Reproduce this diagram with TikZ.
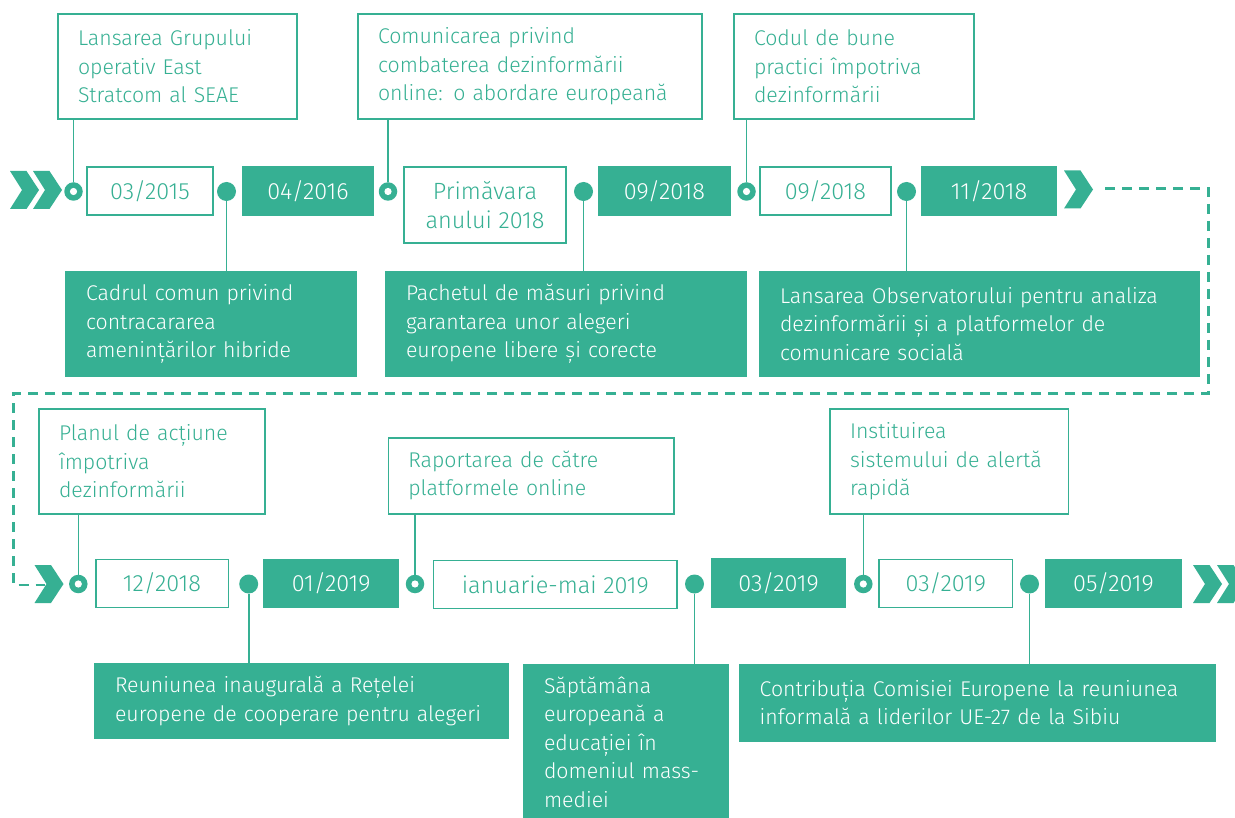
\documentclass[tikz,border=0pt]{standalone}
\usepackage{fontspec}
\setmainfont{Fira Sans}[UprightFont={* Light}]
\definecolor{eugreen}{RGB}{54,176,147}
\newcommand\chevshape[2]{\fill[eugreen] (#1-29,#2-19) -- (#1-12.5,#2-19) -- (#1,#2) -- (#1-12.5,#2+19) -- (#1-29,#2+19) -- (#1-17,#2) -- cycle;}
\begin{document}
\begin{tikzpicture}[x=1pt,y=-1pt,
  every node/.style={font=\fontsize{21.3}{28.5}\selectfont},
  tbox/.style={draw=eugreen, line width=1.6pt, fill=white, text=eugreen, inner xsep=20pt, inner ysep=0pt, align=left},
  gbox/.style={draw=eugreen, line width=1.6pt, fill=eugreen, text=white, inner xsep=20pt, inner ysep=0pt, align=left},
  dbox/.style={draw=eugreen, line width=1.6pt, fill=white, text=eugreen, inner sep=0pt, align=center, font=\fontsize{23.5}{28.5}\selectfont},
  fdbox/.style={dbox, fill=eugreen, text=white},
  odot/.style={circle, fill=eugreen, minimum size=18.5pt, inner sep=0pt, path picture={\fill[white] (path picture bounding box.center) circle (3.6pt);}},
  fdot/.style={circle, fill=eugreen, minimum size=19pt, inner sep=0pt},
  stem/.style={draw=eugreen, line width=1.6pt},
  dashline/.style={draw=eugreen, line width=2.7pt, dash pattern=on 10pt off 7pt},
]
\fill[white] (0,0) rectangle (1235,818);
\useasboundingbox (0,0) rectangle (1235,818);
\begin{scope}
\clip (0,0) rectangle (1235,818);

% ---------- row 1 ----------
\chevshape{39}{190}
\chevshape{62}{190}
\chevshape{1093}{189.5}

\node[tbox, text width=199pt, minimum height=105pt] (t1) at (177.5,66.5) {Lansarea Grupului\\operativ East\\Stratcom al SEAE};
\node[tbox, text width=304pt, minimum height=105pt] (t2) at (530,66.5) {Comunicarea privind\\combaterea dezinformării\\online: o abordare europeană};
\node[tbox, text width=200pt, minimum height=105pt] (t3) at (854,66.5) {Codul de bune\\practici împotriva\\dezinformării};

\node[dbox, minimum width=126pt, minimum height=48pt] (d1) at (150,191) {03/2015};
\node[fdbox, minimum width=130pt, minimum height=48pt] (d2) at (308,191) {04/2016};
\node[dbox, minimum width=162pt, minimum height=76pt] (d3) at (485,205) {Primăvara\\anului 2018};
\node[fdbox, minimum width=131pt, minimum height=48pt] (d4) at (664.5,191) {09/2018};
\node[dbox, minimum width=131pt, minimum height=48pt] (d5) at (825.5,191) {09/2018};
\node[fdbox, minimum width=134pt, minimum height=48pt] (d6) at (989,191) {11/2018};

\node[gbox, text width=250pt, minimum height=104pt] (b1) at (211,324) {Cadrul comun privind\\contracararea\\amenințărilor hibride};
\node[gbox, text width=320.5pt, minimum height=104pt] (b2) at (566.25,324) {Pachetul de măsuri privind\\garantarea unor alegeri\\europene libere și corecte};
\node[gbox, text width=399pt, minimum height=104pt] (b3) at (979.5,324) {Lansarea Observatorului pentru analiza\\dezinformării și a platformelor de\\comunicare socială};

\node[odot] (c1) at (73.5,191.5) {};
\node[fdot] (c2) at (226.5,191.5) {};
\node[odot] (c3) at (388,191.5) {};
\node[fdot] (c4) at (583.5,191.5) {};
\node[odot] (c5) at (746.5,191.5) {};
\node[fdot] (c6) at (906.5,191.5) {};

\draw[stem] (c1) -- (c1 |- t1.south);
\draw[stem] (c3) -- (c3 |- t2.south);
\draw[stem] (c5) -- (c5 |- t3.south);
\draw[stem] (c2) -- (c2 |- b1.north);
\draw[stem] (c4) -- (c4 |- b2.north);
\draw[stem] (c6) -- (c6 |- b3.north);

% ---------- connector between rows ----------
\coordinate (dstart) at (1105,188.5);
\coordinate (dend) at (45,585);
\draw[dashline] (dstart) -- (1208.5,188.5) -- (1208.5,393.5) -- (13.5,393.5) -- (13.5,585) -- (dend);

% ---------- row 2 ----------
\chevshape{63.5}{584}
\chevshape{1222}{584}
\chevshape{1246}{584}

\node[tbox, text width=186pt, minimum height=105pt] (t4) at (152,461.5) {Planul de acțiune\\împotriva\\dezinformării};
\node[tbox, text width=245.7pt, minimum height=76pt] (t5) at (531.15,475.7) {Raportarea de către\\platformele online};
\node[tbox, text width=198.5pt, minimum height=104.7pt] (t6) at (949.25,461.35) {Instituirea\\sistemului de alertă\\rapidă};

\node[dbox, minimum width=132.6pt, minimum height=48pt] (d7) at (162,583.3) {12/2018};
\node[fdbox, minimum width=134.3pt, minimum height=48pt] (d8) at (331.15,583.3) {01/2019};
\node[dbox, minimum width=243.5pt, minimum height=48pt] (d9) at (555.25,584.5) {ianuarie-mai 2019};
\node[fdbox, minimum width=134pt, minimum height=48pt] (d10) at (778.6,583.2) {03/2019};
\node[dbox, minimum width=133.5pt, minimum height=48pt] (d11) at (945.75,583.3) {03/2019};
\node[fdbox, minimum width=135pt, minimum height=48pt] (d12) at (1113.5,583.6) {05/2019};

\node[gbox, text width=373pt, minimum height=75pt] (b4) at (301.5,700.8) {Reuniunea inaugurală a Rețelei\\europene de cooperare pentru alegeri};
\node[gbox, text width=164.5pt, minimum height=156pt] (b5) at (626.25,742.3) {Săptămâna\\europeană a\\educației în\\domeniul mass-\\mediei};
\node[gbox, text width=435pt, minimum height=76.7pt] (b6) at (977.2,702.65) {Contribuția Comisiei Europene la reuniunea\\informală a liderilor UE-27 de la Sibiu};

\node[odot] (c7) at (78.3,584) {};
\node[fdot] (c8) at (248.7,584) {};
\node[odot] (c9) at (415,584) {};
\node[fdot] (c10) at (694.5,584) {};
\node[odot] (c11) at (863.3,584) {};
\node[fdot] (c12) at (1029.5,584) {};

\draw[stem] (c7) -- (c7 |- t4.south);
\draw[stem] (c9) -- (c9 |- t5.south);
\draw[stem] (c11) -- (c11 |- t6.south);
\draw[stem] (c8) -- (c8 |- b4.north);
\draw[stem] (c10) -- (c10 |- b5.north);
\draw[stem] (c12) -- (c12 |- b6.north);
\end{scope}
\end{tikzpicture}
\end{document}
